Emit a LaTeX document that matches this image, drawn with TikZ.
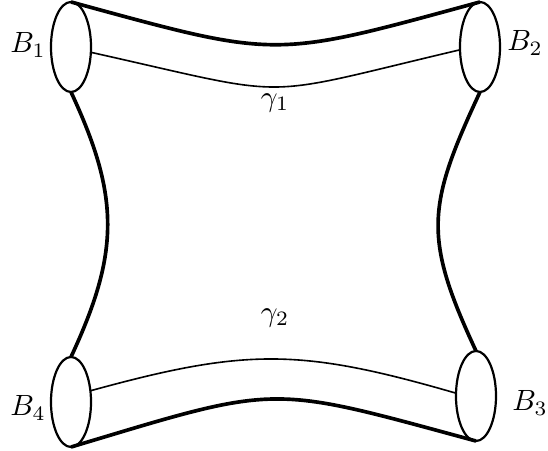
\documentclass[tikz,border=0pt]{standalone}
\usetikzlibrary{shapes.geometric}
\begin{document}
\begin{tikzpicture}[x=0.012cm,y=0.012cm,
        bdry/.style = {draw, ellipse, line width=0.75pt, inner sep=0pt, outer sep=0pt,
                       minimum width=0.48cm, minimum height=1.08cm},
        fat/.style = {line width=1.25pt},
        slim/.style = {line width=0.55pt}
    ]
            \useasboundingbox (0,0) rectangle (548,451);
            % the four boundary circles
            \node[bdry] (B1) at (71,404) {};
            \node[bdry] (B2) at (480,404) {};
            \node[bdry] (B3) at (476,55) {};
            \node[bdry] (B4) at (71,49) {};
            \node (lB1) at (28,406) {$B_1$};
            \node (lB2) at (525,408) {$B_2$};
            \node (lB3) at (530,48) {$B_3$};
            \node (lB4) at (28,43) {$B_4$};
            % outer boundary
            \draw[fat] (B1.north) .. controls (280,392) and (271,392) .. (B2.north);
            \draw[fat] (B4.south) .. controls (281,67) and (266,67) .. (B3.south);
            \draw[fat] (B1.south) to[out=-65,in=65,looseness=1.12] (B4.north);
            \draw[fat] (B2.south) to[out=-115,in=115,looseness=1.24] (B3.north);
            % the two curves
            \draw[slim] (B1.-15) .. controls (300,352) and (251,352) .. (B2.188);
            \draw[slim] (B4.30) .. controls (246,103) and (300,103) .. (B3.172);
            \node (g1) at (275,348) {$\gamma_1$};
            \node (g2) at (275,133) {$\gamma_2$};
\end{tikzpicture}
\end{document}
